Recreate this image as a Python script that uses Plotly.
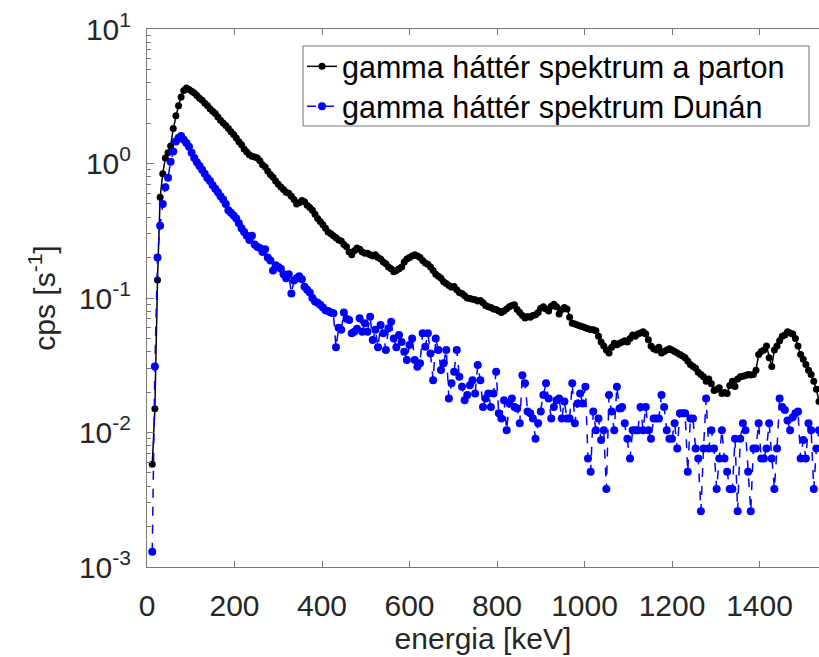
import plotly.graph_objects as go

# channel energies (keV), 6 keV channels
energy = list(range(12, 1537, 6))

parton_cps = [
    0.0058, 0.015, 0.136, 0.56, 0.84, 1.1, 1.2, 1.35, 1.82, 2.26,
    2.69, 3.12, 3.49, 3.64, 3.55, 3.45, 3.35, 3.2, 3.06, 2.95,
    2.8, 2.7, 2.55, 2.45, 2.35, 2.22, 2.1, 2.0, 1.92, 1.82,
    1.72, 1.64, 1.55, 1.45, 1.38, 1.28, 1.22, 1.16, 1.13, 1.12,
    1.1, 1.05, 0.98, 0.94, 0.88, 0.83, 0.79, 0.74, 0.70, 0.67,
    0.64, 0.61, 0.60, 0.57, 0.54, 0.50, 0.51, 0.53, 0.52, 0.49,
    0.47, 0.45, 0.42, 0.39, 0.37, 0.35, 0.33, 0.31, 0.30, 0.29,
    0.28, 0.27, 0.265, 0.25, 0.24, 0.22, 0.21, 0.225, 0.235, 0.23,
    0.22, 0.215, 0.215, 0.21, 0.205, 0.21, 0.20, 0.195, 0.185, 0.18,
    0.17, 0.165, 0.157, 0.16, 0.165, 0.17, 0.185, 0.195, 0.20, 0.205,
    0.21, 0.205, 0.20, 0.19, 0.182, 0.178, 0.17, 0.16, 0.15, 0.145,
    0.14, 0.132, 0.128, 0.124, 0.12, 0.122, 0.115, 0.11, 0.108, 0.104,
    0.10, 0.099, 0.098, 0.097, 0.095, 0.096, 0.092, 0.088, 0.086, 0.085,
    0.083, 0.082, 0.08, 0.078, 0.08, 0.083, 0.086, 0.088, 0.089, 0.082,
    0.078, 0.074, 0.071, 0.073, 0.072, 0.074, 0.075, 0.078, 0.084, 0.086,
    0.083, 0.08, 0.087, 0.09, 0.086, 0.076, 0.082, 0.085, 0.083, 0.072,
    0.065, 0.064, 0.063, 0.062, 0.061, 0.06, 0.059, 0.058, 0.058, 0.057,
    0.052, 0.047, 0.044, 0.041, 0.039, 0.043, 0.046, 0.045, 0.046, 0.047,
    0.048, 0.047, 0.05, 0.053, 0.052, 0.054, 0.055, 0.056, 0.054, 0.049,
    0.044, 0.042, 0.041, 0.043, 0.039, 0.04, 0.041, 0.042, 0.041, 0.04,
    0.039, 0.038, 0.037, 0.036, 0.034, 0.032, 0.031, 0.030, 0.028, 0.027,
    0.026, 0.024, 0.025, 0.023, 0.0205, 0.021, 0.0215, 0.0195, 0.0198, 0.0195,
    0.0224, 0.024, 0.022, 0.025, 0.026, 0.0262, 0.0265, 0.027, 0.0268, 0.027,
    0.029, 0.038, 0.04, 0.041, 0.044, 0.036, 0.031, 0.041, 0.044, 0.048,
    0.052, 0.053, 0.056, 0.055, 0.054, 0.05, 0.044, 0.038, 0.035, 0.032,
    0.029, 0.027, 0.024, 0.021, 0.017,
]

duna_cps = [
    0.0013, 0.031, 0.2, 0.345, 0.5, 0.667, 0.785, 1.03, 1.23, 1.46,
    1.55, 1.6, 1.5, 1.42, 1.33, 1.2, 1.1, 1.02, 0.96, 0.9,
    0.84, 0.78, 0.74, 0.69, 0.65, 0.61, 0.57, 0.54, 0.5, 0.45,
    0.43, 0.41, 0.39, 0.36, 0.33, 0.31, 0.29, 0.27, 0.29, 0.25,
    0.24, 0.235, 0.22, 0.23, 0.2, 0.19, 0.16, 0.175, 0.17, 0.165,
    0.15, 0.14, 0.15, 0.108, 0.135, 0.14, 0.145, 0.138, 0.121, 0.115,
    0.11, 0.1, 0.094, 0.092, 0.089, 0.085, 0.081, 0.08, 0.078, 0.077,
    0.043, 0.06, 0.058, 0.078, 0.07, 0.0686, 0.0546, 0.056, 0.059, 0.0707,
    0.056, 0.065, 0.056, 0.0725, 0.0487, 0.058, 0.043, 0.063, 0.0546, 0.041,
    0.0596, 0.0667, 0.05, 0.043, 0.053, 0.047, 0.0398, 0.0346, 0.0447, 0.05,
    0.0346, 0.0308, 0.0327, 0.0546, 0.0434, 0.0546, 0.0387, 0.0245, 0.050, 0.041,
    0.0291, 0.0327, 0.041, 0.0179, 0.0232, 0.0283, 0.041, 0.026, 0.0219, 0.0174,
    0.019, 0.0225, 0.0245, 0.0195, 0.0317, 0.0245, 0.0155, 0.0179, 0.0195, 0.0155,
    0.0195, 0.0283, 0.0139, 0.0127, 0.0174, 0.0104, 0.0164, 0.0179, 0.0155, 0.0151,
    0.0117, 0.0267, 0.0232, 0.0143, 0.0139, 0.0127, 0.009, 0.0117, 0.0143, 0.019,
    0.0232, 0.0179, 0.0127, 0.0155, 0.0174, 0.0179, 0.0127, 0.017, 0.0127, 0.0127,
    0.0232, 0.0117, 0.0164, 0.0195, 0.0164, 0.0219, 0.0064, 0.0051, 0.0143, 0.0104,
    0.0127, 0.0088, 0.0104, 0.0038, 0.019, 0.0143, 0.0104, 0.0219, 0.0151, 0.0155,
    0.0117, 0.009, 0.0064, 0.0104, 0.0104, 0.0104, 0.0155, 0.0104, 0.0155, 0.0104,
    0.009, 0.0127, 0.0127, 0.0127, 0.019, 0.0155, 0.0104, 0.009, 0.009, 0.0117,
    0.0076, 0.0139, 0.0139, 0.0139, 0.0051, 0.0127, 0.0127, 0.0076, 0.0064, 0.0026,
    0.0076, 0.0179, 0.0076, 0.0104, 0.0076, 0.0038, 0.0064, 0.0104, 0.0064, 0.0051,
    0.0038, 0.0038, 0.009, 0.0026, 0.009, 0.0117, 0.0104, 0.0051, 0.0026, 0.0076,
    0.0076, 0.0117, 0.0064, 0.0064, 0.0076, 0.0117, 0.0064, 0.0038, 0.0076, 0.0179,
    0.0155, 0.0147, 0.0123, 0.0104, 0.013, 0.0139, 0.0143, 0.0064, 0.0088, 0.0064,
    0.0117, 0.0104, 0.0038, 0.0076, 0.0104,
]

series_names = ["gamma háttér spektrum a parton", "gamma háttér spektrum Dunán"]
x_ticks = [0, 200, 400, 600, 800, 1000, 1200, 1400]
y_ticks = [1e-3, 1e-2, 1e-1, 1e0, 1e1]
y_ticktext = ["10<sup>-3</sup>", "10<sup>-2</sup>", "10<sup>-1</sup>", "10<sup>0</sup>", "10<sup>1</sup>"]
y_minor = [m * 10.0 ** e for e in range(-3, 1) for m in range(2, 10)]

n = min(len(energy), len(parton_cps), len(duna_cps))
FONT = "Liberation Sans, Arial, sans-serif"
AXIS_COL = "#777777"
TXT = "#262626"

W, H = 819, 657
ML, MR, MT, MB = 147, 0, 29, 90
PW, PH = W - ML - MR, H - MT - MB


def px_x(p):
    return (p - ML) / PW


def px_y(p):
    return 1 - (p - MT) / PH


fig = go.Figure()
fig.add_trace(go.Scatter(
    x=energy[:n], y=parton_cps[:n], mode="lines+markers", name=series_names[0],
    line=dict(color="black", width=1.5),
    marker=dict(color="black", size=7, symbol="circle"),
    legend="legend",
))
fig.add_trace(go.Scatter(
    x=energy[:n], y=duna_cps[:n], mode="lines+markers", name=series_names[1],
    line=dict(color="#0000ff", width=1.5, dash="dash"),
    marker=dict(color="#0000ff", size=8, symbol="circle"),
    legend="legend2",
))

# legend frame
fig.add_shape(type="rect", xref="paper", yref="paper",
              x0=px_x(303), x1=px_x(809), y0=px_y(126), y1=px_y(46),
              line=dict(color=AXIS_COL, width=1), fillcolor="white", layer="above")

leg_common = dict(
    xanchor="left", yanchor="top",
    bgcolor="rgba(0,0,0,0)", borderwidth=0,
    font=dict(family=FONT, size=30.5, color="black"),
    itemwidth=30,
)

fig.update_layout(
    width=W, height=H,
    margin=dict(l=ML, r=MR, t=MT, b=MB, autoexpand=False),
    paper_bgcolor="white", plot_bgcolor="white",
    font=dict(family=FONT, size=30, color=TXT),
    showlegend=True,
    legend=dict(x=px_x(302), y=px_y(40), **leg_common),
    legend2=dict(x=px_x(302), y=px_y(80), **leg_common),
)

fig.update_xaxes(
    range=[0, 1536], tickmode="array", tickvals=x_ticks,
    ticks="inside", ticklen=6, tickwidth=1, tickcolor=AXIS_COL,
    showline=True, linecolor=AXIS_COL, linewidth=1, mirror="ticks",
    showgrid=False, zeroline=False,
    tickfont=dict(family=FONT, size=30, color=TXT),
    ticklabelstandoff=12,
    title=dict(text="energia [keV]", font=dict(family=FONT, size=30, color=TXT), standoff=0),
)
fig.update_yaxes(
    type="log", range=[-3, 1], tickmode="array", tickvals=y_ticks, ticktext=y_ticktext,
    ticks="inside", ticklen=7, tickwidth=1, tickcolor=AXIS_COL,
    minor=dict(tickmode="array", tickvals=y_minor, ticks="inside", ticklen=4,
               tickcolor=AXIS_COL, showgrid=False),
    showline=True, linecolor=AXIS_COL, linewidth=1, mirror=False,
    showgrid=False, zeroline=False,
    tickfont=dict(family=FONT, size=30, color=TXT),
    ticklabelstandoff=9,
    title=dict(text="cps [s<sup>-1</sup>]", font=dict(family=FONT, size=30, color=TXT), standoff=14),
)

fig.write_html("out.html", config={"displayModeBar": False},
               post_script="document.body.style.margin='0';")
